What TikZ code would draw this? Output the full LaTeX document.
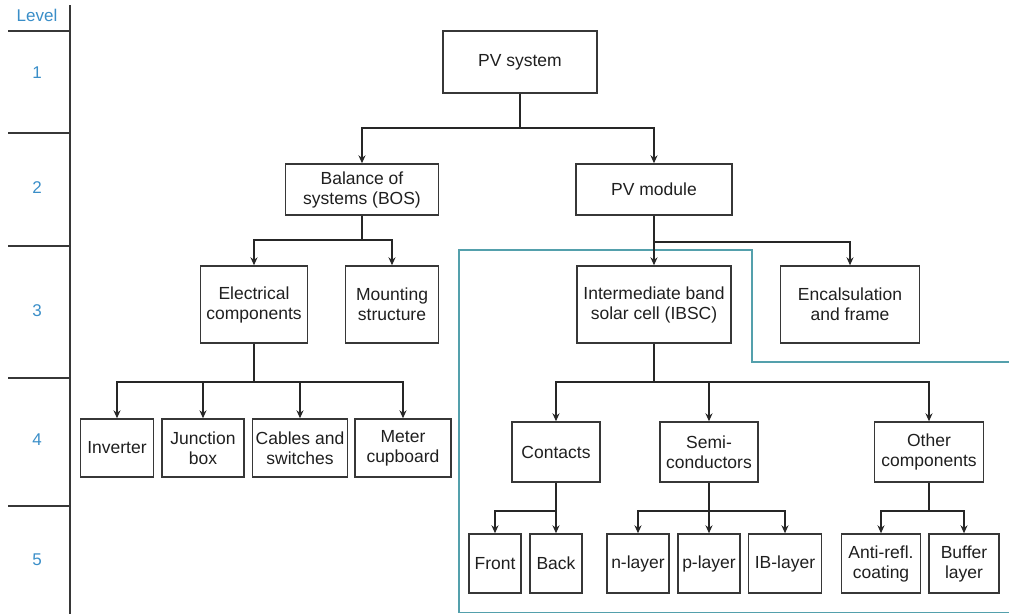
\documentclass[tikz,border=0pt]{standalone}
\usepackage{fontspec}
\setmainfont{Liberation Sans}
\usetikzlibrary{arrows.meta}
\definecolor{boxc}{RGB}{55,55,55}
\definecolor{levelc}{RGB}{58,142,200}
\definecolor{framec}{RGB}{84,160,172}
\begin{document}
\begin{tikzpicture}[x=1pt,y=-1pt,
  txt/.style={font=\fontsize{17.5}{20}\selectfont, align=center, inner sep=0pt, text=black!88},
  box/.style={txt, draw=boxc, line width=1.4pt},
  lvl/.style={font=\fontsize{17}{20}\selectfont, text=levelc, inner sep=0pt},
  conn/.style={draw=black!85, line width=1.4pt},
  arr/.style={conn, -{Stealth[length=8pt,width=7pt]}},
  rule/.style={draw=boxc, line width=1.3pt}]
\useasboundingbox (0,0) rectangle (1009,614);

% level scale on the left
\draw[rule] (70,5) -- (70,614);
\foreach \y in {31,133,246,378,506} \draw[rule] (8,\y) -- (70,\y);
\node[lvl] (lv) at (37,15) {Level};
\node[lvl] (l1) at (37,73) {1};
\node[lvl] (l2) at (37,188) {2};
\node[lvl] (l3) at (37,311) {3};
\node[lvl] (l4) at (37,440) {4};
\node[lvl] (l5) at (37,560) {5};

% frame around the cell branch
\draw[framec, line width=1.4pt] (1012,362) -- (752,362) -- (752,250) -- (459,250) -- (459,612.5) -- (1012,612.5);

% level 1
\node[box, minimum width=154pt, minimum height=62pt] (pv) at (520,62) {PV system};
% level 2
\node[box, minimum width=153pt, minimum height=51pt] (bos) at (362,189.5) {Balance of\\systems (BOS)};
\node[box, minimum width=156pt, minimum height=51pt] (mod) at (654,189.5) {PV module};
% level 3
\node[box, minimum width=107pt, minimum height=77pt] (elec) at (254,304.5) {Electrical\\components};
\node[box, minimum width=93pt, minimum height=77pt] (mount) at (392,304.5) {Mounting\\structure};
\node[box, minimum width=154pt, minimum height=77pt] (ibsc) at (654,304.5) {Intermediate band\\solar cell (IBSC)};
\node[box, minimum width=139pt, minimum height=77pt] (encap) at (850,304.5) {Encalsulation\\and frame};
% level 4
\node[box, minimum width=73pt, minimum height=58pt] (inv) at (117,448) {Inverter};
\node[box, minimum width=82pt, minimum height=58pt] (junc) at (203,448) {Junction\\box};
\node[box, minimum width=95pt, minimum height=58pt] (cab) at (300,448) {Cables and\\switches};
\node[box, minimum width=96pt, minimum height=58pt] (met) at (403,448) {Meter\\cupboard};
\node[box, minimum width=88pt, minimum height=60pt] (cont) at (556,452) {Contacts};
\node[box, minimum width=98pt, minimum height=60pt] (semi) at (709,452) {Semi-\\conductors};
\node[box, minimum width=109pt, minimum height=60pt] (oth) at (929,452) {Other\\components};
% level 5
\node[box, minimum width=52pt, minimum height=59pt] (front) at (495,563.5) {Front};
\node[box, minimum width=52pt, minimum height=59pt] (back) at (556,563.5) {Back};
\node[box, minimum width=62pt, minimum height=59pt] (nl) at (638,563.5) {n-layer};
\node[box, minimum width=62pt, minimum height=59pt] (pl) at (709,563.5) {p-layer};
\node[box, minimum width=73pt, minimum height=59pt] (ibl) at (785,563.5) {IB-layer};
\node[box, minimum width=79pt, minimum height=59pt] (anti) at (881,563.5) {Anti-refl.\\coating};
\node[box, minimum width=70pt, minimum height=59pt] (buf) at (964,563.5) {Buffer\\layer};

% heights of the branching bars
\coordinate (y1) at (0,128);
\coordinate (y2a) at (0,240);
\coordinate (y2b) at (0,242);
\coordinate (y3) at (0,382);
\coordinate (y4) at (0,511);

% connectors
\foreach \c in {bos,mod}
  \draw[arr] (pv.south) -- (pv.south |- y1) -| (\c.north);
\foreach \c in {elec,mount}
  \draw[arr] (bos.south) -- (bos.south |- y2a) -| (\c.north);
\foreach \c in {ibsc,encap}
  \draw[arr] (mod.south) -- (mod.south |- y2b) -| (\c.north);
\foreach \c in {inv,junc,cab,met}
  \draw[arr] (elec.south) -- (elec.south |- y3) -| (\c.north);
\foreach \c in {cont,semi,oth}
  \draw[arr] (ibsc.south) -- (ibsc.south |- y3) -| (\c.north);
\foreach \c in {front,back}
  \draw[arr] (cont.south) -- (cont.south |- y4) -| (\c.north);
\foreach \c in {nl,pl,ibl}
  \draw[arr] (semi.south) -- (semi.south |- y4) -| (\c.north);
\foreach \c in {anti,buf}
  \draw[arr] (oth.south) -- (oth.south |- y4) -| (\c.north);
\end{tikzpicture}
\end{document}
